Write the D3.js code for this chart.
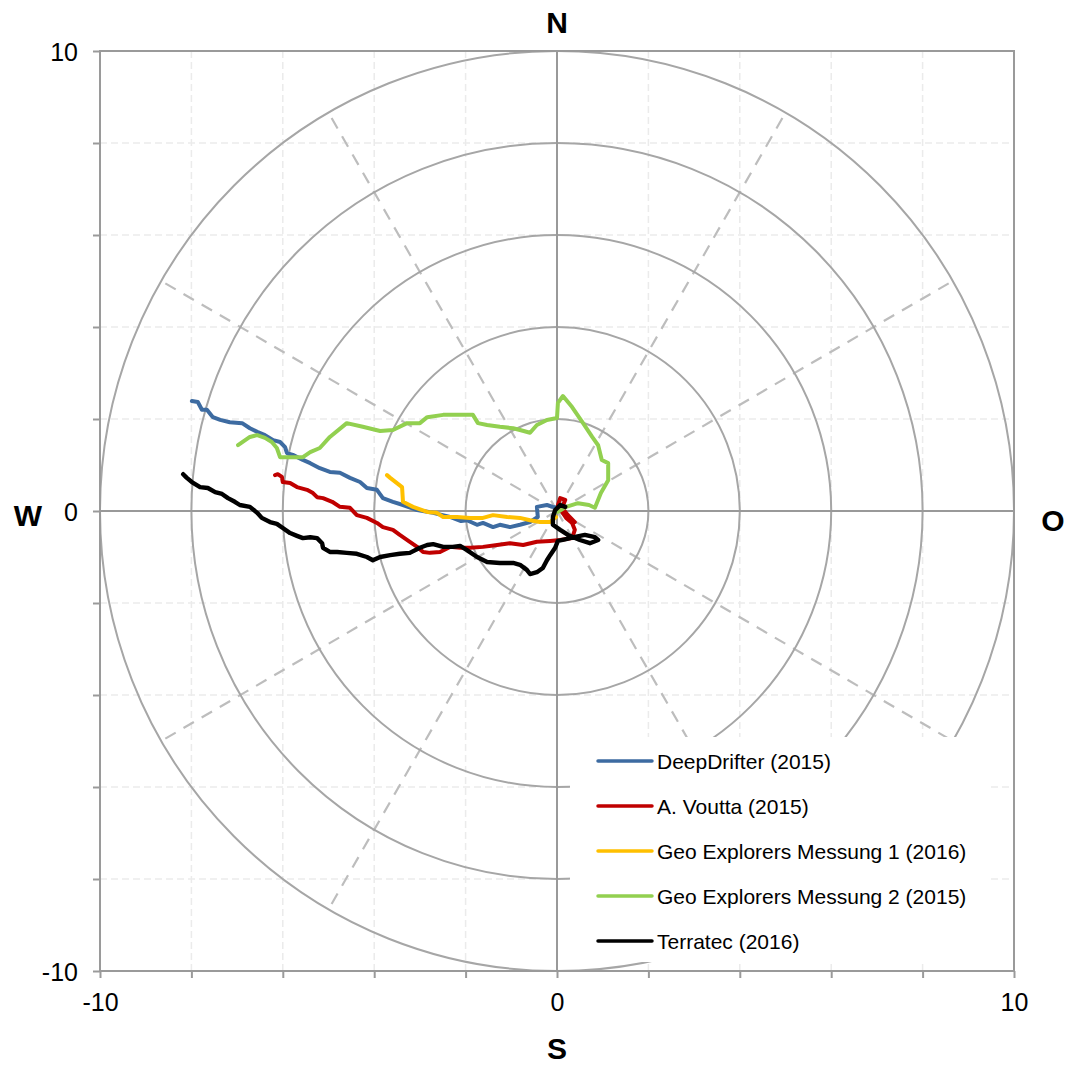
<!DOCTYPE html>
<html>
<head>
<meta charset="utf-8">
<script src="https://cdn.jsdelivr.net/npm/d3@7"></script>
<style>
  body { margin: 0; background: #fff; }
  text { font-family: "Liberation Sans", Arial, sans-serif; }
</style>
</head>
<body>
<svg id="chart" width="1068" height="1066"></svg>
<script>
// drift tracks, [east, north] in the chart units
var deepDrifter = [[-7.99,2.39],[-7.86,2.37],[-7.77,2.20],[-7.66,2.20],[-7.53,2.04],[-7.37,1.98],[-7.16,1.93],[-6.89,1.91],
  [-6.72,1.80],[-6.56,1.72],[-6.39,1.65],[-6.21,1.54],[-6.06,1.50],[-5.95,1.39],[-5.91,1.26],[-5.78,1.22],[-5.56,1.11],
  [-5.40,1.04],[-5.19,0.93],[-4.97,0.85],[-4.75,0.83],[-4.53,0.72],[-4.31,0.63],[-4.16,0.50],[-3.94,0.46],[-3.81,0.28],
  [-3.59,0.20],[-3.37,0.13],[-3.06,0.02],[-2.71,-0.04],[-2.34,-0.13],[-2.10,-0.22],[-1.97,-0.20],[-1.75,-0.30],[-1.62,-0.26],
  [-1.40,-0.35],[-1.25,-0.30],[-1.03,-0.35],[-0.81,-0.30],[-0.59,-0.24],[-0.42,-0.13],[-0.44,0.09],[-0.22,0.13],[-0.09,0.09],[0.02,0.07]];
var voutta = [[-6.17,0.78],[-6.11,0.80],[-6.02,0.74],[-6.00,0.63],[-5.84,0.61],[-5.69,0.52],[-5.47,0.46],[-5.34,0.39],
  [-5.25,0.30],[-5.12,0.28],[-4.92,0.20],[-4.75,0.09],[-4.53,0.07],[-4.38,-0.09],[-4.16,-0.15],[-3.94,-0.26],[-3.81,-0.35],
  [-3.59,-0.41],[-3.44,-0.52],[-3.22,-0.67],[-3.06,-0.78],[-2.93,-0.89],[-2.78,-0.91],[-2.56,-0.89],[-2.34,-0.78],[-2.12,-0.80],
  [-1.90,-0.80],[-1.62,-0.78],[-1.31,-0.74],[-1.03,-0.70],[-0.74,-0.74],[-0.44,-0.67],[-0.15,-0.65],[0.07,-0.63],[0.33,-0.59],
  [0.39,-0.41],[0.33,-0.26],[0.20,-0.15],[0.11,-0.02],[0.02,0.13],[0.07,0.28],[0.18,0.24],[0.11,0.07],[0.24,-0.09],[0.39,-0.24]];
var geoMessung1 = [[-3.72,0.78],[-3.65,0.72],[-3.39,0.52],[-3.37,0.20],[-3.15,0.09],[-2.84,-0.02],[-2.63,-0.04],[-2.49,-0.13],
  [-2.19,-0.13],[-1.90,-0.15],[-1.62,-0.15],[-1.40,-0.09],[-1.09,-0.13],[-0.81,-0.15],[-0.59,-0.20],[-0.37,-0.24],[-0.15,-0.24],[-0.02,-0.13]];
var geoMessung2 = [[-6.98,1.43],[-6.72,1.61],[-6.56,1.65],[-6.39,1.59],[-6.24,1.50],[-6.13,1.37],[-6.06,1.17],[-5.91,1.17],
  [-5.56,1.17],[-5.40,1.28],[-5.19,1.37],[-4.97,1.61],[-4.60,1.91],[-4.25,1.83],[-3.87,1.74],[-3.59,1.76],[-3.28,1.91],
  [-3.00,1.91],[-2.84,2.04],[-2.49,2.09],[-1.84,2.09],[-1.73,1.91],[-1.53,1.87],[-1.25,1.83],[-0.96,1.80],[-0.81,1.76],
  [-0.59,1.70],[-0.44,1.87],[-0.22,1.98],[0.00,2.02],[0.02,2.35],[0.13,2.50],[0.33,2.26],[0.57,1.91],[0.77,1.61],[0.90,1.43],
  [0.98,1.11],[1.12,1.04],[1.12,0.67],[0.96,0.39],[0.83,0.07],[0.70,0.13],[0.46,0.17],[0.20,0.09],[0.02,-0.02]];
var terratec = [[-8.18,0.80],[-8.10,0.72],[-7.99,0.63],[-7.81,0.52],[-7.64,0.50],[-7.48,0.41],[-7.33,0.37],[-7.20,0.28],
  [-7.05,0.20],[-6.94,0.13],[-6.72,0.09],[-6.56,-0.04],[-6.46,-0.15],[-6.28,-0.24],[-6.13,-0.28],[-6.00,-0.37],[-5.84,-0.48],
  [-5.69,-0.54],[-5.56,-0.59],[-5.40,-0.57],[-5.25,-0.59],[-5.14,-0.70],[-5.12,-0.80],[-4.97,-0.89],[-4.81,-0.89],[-4.60,-0.91],
  [-4.38,-0.93],[-4.16,-1.00],[-4.03,-1.07],[-3.87,-1.00],[-3.65,-0.96],[-3.44,-0.93],[-3.22,-0.91],[-3.00,-0.80],[-2.84,-0.74],
  [-2.71,-0.72],[-2.49,-0.78],[-2.28,-0.78],[-2.12,-0.76],[-1.97,-0.85],[-1.75,-1.00],[-1.53,-1.11],[-1.25,-1.13],[-0.96,-1.13],
  [-0.81,-1.17],[-0.66,-1.28],[-0.59,-1.37],[-0.44,-1.33],[-0.31,-1.24],[-0.22,-1.07],[-0.15,-0.96],[-0.04,-0.80],[0.02,-0.65],
  [0.20,-0.61],[0.37,-0.57],[0.61,-0.52],[0.83,-0.57],[0.90,-0.63],[0.72,-0.70],[0.50,-0.63],[0.24,-0.52],[0.07,-0.41],
  [-0.09,-0.30],[-0.09,-0.13],[-0.04,0.02],[0.07,0.13],[0.18,0.09]];

var seriesNames = ["DeepDrifter (2015)", "A. Voutta (2015)", "Geo Explorers Messung 1 (2016)", "Geo Explorers Messung 2 (2015)", "Terratec (2016)"];
var seriesData = [deepDrifter, voutta, geoMessung1, geoMessung2, terratec];
var seriesColors = ["#3d6ba1", "#c00000", "#ffc000", "#92d050", "#000000"];

var ringRadii = [2, 4, 6, 8, 10];
var spokeAngles = [30, 60, 120, 150, 210, 240, 300, 330];
var gridTicks = [-8, -6, -4, -2, 2, 4, 6, 8];
var axisTicks = [-10, -8, -6, -4, -2, 0, 2, 4, 6, 8, 10];
var tickLabels = [-10, 0, 10];
var compass = [{t: "N", x: 0, y: 10.63}, {t: "S", x: 0, y: -11.67}, {t: "W", x: -11.58, y: -0.09}, {t: "O", x: 10.85, y: -0.2}];

var svg = d3.select("#chart");
var x = d3.scaleLinear().domain([-10, 10]).range([100, 1014]);
var y = d3.scaleLinear().domain([-10, 10]).range([971, 51]);

var grid = svg.append("g");
// light dashed grid
grid.selectAll(".gx").data(gridTicks).enter().append("line")
  .attr("x1", function(d){ return x(d); }).attr("x2", function(d){ return x(d); })
  .attr("y1", y(10)).attr("y2", y(-10))
  .attr("stroke", "#ebebeb").attr("stroke-width", 1.5).attr("stroke-dasharray", "7,4");
grid.selectAll(".gy").data(gridTicks).enter().append("line")
  .attr("y1", function(d){ return y(d); }).attr("y2", function(d){ return y(d); })
  .attr("x1", x(-10)).attr("x2", x(10))
  .attr("stroke", "#ebebeb").attr("stroke-width", 1.5).attr("stroke-dasharray", "7,4");

// spokes
grid.selectAll(".spoke").data(spokeAngles).enter().append("line")
  .attr("x1", x(0)).attr("y1", y(0))
  .attr("x2", function(d){ return x(10 * Math.cos(d * Math.PI / 180)); })
  .attr("y2", function(d){ return y(10 * Math.sin(d * Math.PI / 180)); })
  .attr("stroke", "#bdbdbd").attr("stroke-width", 2.2).attr("stroke-dasharray", "12,9");

// rings
grid.selectAll(".ring").data(ringRadii).enter().append("ellipse")
  .attr("cx", x(0)).attr("cy", y(0))
  .attr("rx", function(d){ return x(d) - x(0); })
  .attr("ry", function(d){ return y(0) - y(d); })
  .attr("fill", "none").attr("stroke", "#a6a6a6").attr("stroke-width", 2);

// axes through zero
grid.append("line").attr("x1", x(0)).attr("x2", x(0)).attr("y1", y(10)).attr("y2", y(-10))
  .attr("stroke", "#999").attr("stroke-width", 2);
grid.append("line").attr("x1", x(-10)).attr("x2", x(10)).attr("y1", y(0)).attr("y2", y(0))
  .attr("stroke", "#999").attr("stroke-width", 2);

// frame
svg.append("rect").attr("x", x(-10)).attr("y", y(10))
  .attr("width", x(10) - x(-10)).attr("height", y(-10) - y(10))
  .attr("fill", "none").attr("stroke", "#9a9a9a").attr("stroke-width", 2);

var yAxis = d3.axisLeft(y).tickValues(axisTicks).tickSize(7).tickFormat(function(d){ return tickLabels.indexOf(d) >= 0 ? d : ""; });
var xAxis = d3.axisBottom(x).tickValues(axisTicks).tickSize(7).tickFormat(function(d){ return tickLabels.indexOf(d) >= 0 ? d : ""; });
var ya = svg.append("g").attr("transform", "translate(" + x(-10) + ",0)").call(yAxis);
var xa = svg.append("g").attr("transform", "translate(0," + y(-10) + ")").call(xAxis);
[ya, xa].forEach(function(a){
  a.select(".domain").remove();
  a.selectAll(".tick line").attr("stroke", "#9a9a9a").attr("stroke-width", 2);
  a.selectAll(".tick text").attr("font-size", 25).attr("fill", "#000")
    .attr("font-family", "Liberation Sans, Arial, sans-serif");
});
ya.selectAll(".tick text").attr("x", -22).attr("dy", "0.36em");
xa.selectAll(".tick text").attr("y", 22);

// compass letters
svg.selectAll(".compass").data(compass).enter().append("text")
  .attr("x", function(d){ return x(d.x); })
  .attr("y", function(d){ return y(d.y); })
  .attr("text-anchor", "middle").attr("dy", "0.36em")
  .attr("font-size", 30).attr("font-weight", "bold").text(function(d){ return d.t; });

// tracks
var line = d3.line().x(function(d){ return x(d[0]); }).y(function(d){ return y(d[1]); });
svg.selectAll(".track").data(seriesData).enter().append("path")
  .attr("d", line)
  .attr("fill", "none")
  .attr("stroke", function(d, i){ return seriesColors[i]; })
  .attr("stroke-width", function(d, i){ return i == 4 ? 4.4 : 4; })
  .attr("stroke-linejoin", "round").attr("stroke-linecap", "round");

// legend
var leg = svg.append("g");
leg.append("rect").attr("x", 570).attr("y", 737).attr("width", 420).attr("height", 225).attr("fill", "#fff");
var items = leg.selectAll(".item").data(seriesNames).enter().append("g")
  .attr("transform", function(d, i){ return "translate(598," + (761 + i * 45) + ")"; });
items.append("line").attr("x1", 0).attr("x2", 54).attr("y1", 0).attr("y2", 0)
  .attr("stroke", function(d, i){ return seriesColors[i]; }).attr("stroke-width", 3.5).attr("stroke-linecap", "round");
items.append("text").attr("x", 59).attr("dy", "0.36em").attr("font-size", 21).attr("fill", "#000")
  .text(function(d){ return d; });
</script>
</body>
</html>
